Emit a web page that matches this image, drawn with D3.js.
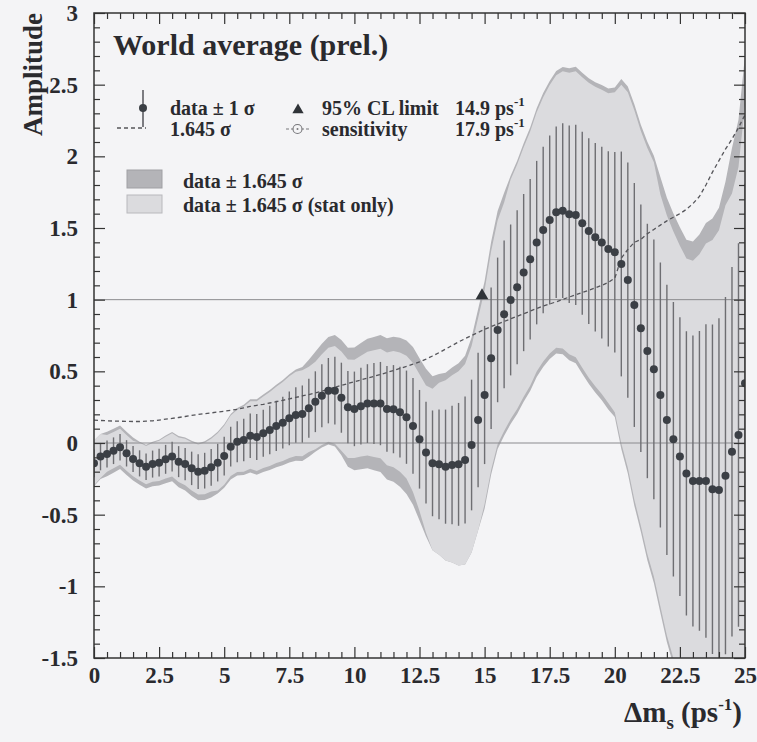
<!DOCTYPE html>
<html><head><meta charset="utf-8">
<script src="https://cdn.jsdelivr.net/npm/d3@7"></script>
<style>
html,body{margin:0;padding:0;background:#f4f4f6;}
svg{display:block;}
text{font-family:"Liberation Serif","DejaVu Serif",serif;font-weight:bold;fill:#2a2a2e;}
</style></head><body>
<svg id="c" width="757" height="742"></svg>
<script>
// Δm_s grid (ps^-1)
const dm = [0,0.25,0.5,0.75,1,1.25,1.5,1.75,2,2.25,2.5,2.75,3,3.25,3.5,3.75,4,4.25,4.5,4.75,
5,5.25,5.5,5.75,6,6.25,6.5,6.75,7,7.25,7.5,7.75,8,8.25,8.5,8.75,9,9.25,9.5,9.75,
10,10.25,10.5,10.75,11,11.25,11.5,11.75,12,12.25,12.5,12.75,13,13.25,13.5,13.75,14,14.25,14.5,14.75,
15,15.25,15.5,15.75,16,16.25,16.5,16.75,17,17.25,17.5,17.75,18,18.25,18.5,18.75,19,19.25,19.5,19.75,
20,20.25,20.5,20.75,21,21.25,21.5,21.75,22,22.25,22.5,22.75,23,23.25,23.5,23.75,24,24.25,24.5,24.75,25];
// measured amplitude
const amp = [-0.142,-0.095,-0.077,-0.054,-0.030,-0.072,-0.112,-0.142,-0.165,-0.147,-0.137,-0.114,-0.095,-0.130,-0.147,-0.177,-0.200,-0.193,-0.170,-0.137,
-0.091,-0.026,0.009,0.021,0.050,0.042,0.068,0.091,0.119,0.142,0.172,0.195,0.202,0.242,0.288,0.330,0.365,0.365,0.316,0.250,
0.238,0.257,0.275,0.275,0.275,0.238,0.236,0.215,0.180,0.119,0.026,-0.067,-0.142,-0.149,-0.165,-0.154,-0.149,-0.119,-0.014,0.161,
0.335,0.591,0.789,0.898,0.998,1.086,1.189,1.282,1.398,1.486,1.556,1.610,1.621,1.596,1.591,1.533,1.479,1.435,1.398,1.354,
1.331,1.249,1.137,0.963,0.800,0.642,0.514,0.335,0.161,0.026,-0.095,-0.212,-0.265,-0.265,-0.265,-0.323,-0.328,-0.228,-0.061,0.056,0.416];
// 1.645 sigma (total)
const sig1645 = [0.160,0.157,0.155,0.153,0.152,0.151,0.150,0.150,0.152,0.155,0.160,0.166,0.172,0.178,0.185,0.192,0.199,0.205,0.210,0.216,
0.222,0.228,0.235,0.245,0.255,0.263,0.270,0.279,0.288,0.298,0.308,0.318,0.328,0.338,0.349,0.362,0.375,0.389,0.402,0.415,
0.428,0.440,0.452,0.465,0.478,0.492,0.506,0.520,0.535,0.550,0.566,0.585,0.607,0.630,0.655,0.680,0.705,0.728,0.750,0.772,
0.793,0.812,0.830,0.848,0.866,0.884,0.902,0.920,0.938,0.955,0.970,0.985,1.002,1.018,1.034,1.050,1.066,1.082,1.100,1.120,
1.150,1.290,1.350,1.400,1.420,1.460,1.490,1.520,1.550,1.575,1.600,1.630,1.670,1.720,1.800,1.890,1.970,2.050,2.120,2.200,2.290];
// 1.645 sigma (stat only), upper and lower half-widths
const statUp = [0.160,0.157,0.132,0.130,0.129,0.128,0.128,0.143,0.144,0.147,0.152,0.158,0.163,0.169,0.176,0.182,0.189,0.195,0.200,0.205,
0.211,0.217,0.223,0.233,0.242,0.250,0.257,0.265,0.274,0.283,0.293,0.302,0.305,0.290,0.279,0.290,0.300,0.311,0.322,0.332,
0.342,0.352,0.362,0.372,0.382,0.394,0.405,0.416,0.428,0.440,0.453,0.468,0.520,0.570,0.603,0.626,0.649,0.670,0.690,0.710,
0.730,0.747,0.764,0.780,0.840,0.857,0.875,0.892,0.910,0.926,0.941,0.955,0.972,0.987,1.003,1.019,1.034,1.050,1.067,1.086,
1.116,1.251,1.310,1.358,1.377,1.416,1.445,1.398,1.426,1.449,1.472,1.500,1.536,1.582,1.656,1.739,1.812,1.886,1.802,1.870,1.947];
const statLo = [0.152,0.149,0.124,0.122,0.122,0.121,0.120,0.120,0.122,0.124,0.128,0.133,0.138,0.142,0.148,0.154,0.159,0.164,0.168,0.194,
0.200,0.205,0.212,0.221,0.230,0.237,0.243,0.251,0.259,0.268,0.277,0.286,0.295,0.304,0.332,0.344,0.356,0.370,0.370,0.355,
0.342,0.352,0.362,0.372,0.382,0.394,0.405,0.416,0.428,0.460,0.500,0.560,0.607,0.630,0.655,0.680,0.705,0.728,0.750,0.772,
0.761,0.780,0.797,0.814,0.831,0.849,0.866,0.883,0.900,0.917,0.931,0.946,0.962,0.977,0.993,1.008,1.023,1.039,1.056,1.075,
1.116,1.251,1.310,1.358,1.377,1.416,1.445,1.474,1.504,1.528,1.552,1.581,1.620,1.668,1.746,1.833,1.911,1.989,2.056,2.134,2.221];
const limit95 = 14.9, sensitivity = 17.9;
const xTickLabels = ["0","2.5","5","7.5","10","12.5","15","17.5","20","22.5","25"];
const yTickLabels = ["-1.5","-1","-0.5","0","0.5","1","1.5","2","2.5","3"];

const data = dm.map((m,i)=>({m, a:amp[i], s:sig1645[i]/1.645, d:sig1645[i], su:statUp[i], sl:statLo[i]}));

const svg = d3.select("#c");
const L=94,R=745,T=13,B=658;
const x = d3.scaleLinear().domain([0,25]).range([L,R]);
const y = d3.scaleLinear().domain([-1.5,3]).range([B,T]);

svg.append("rect").attr("width",757).attr("height",742).attr("fill","#f4f4f6");
svg.append("clipPath").attr("id","clip").append("rect").attr("x",L).attr("y",T).attr("width",R-L).attr("height",B-T);
const g = svg.append("g").attr("clip-path","url(#clip)");

const areaTot = d3.area().x(d=>x(d.m)).y0(d=>y(d.a-d.d)).y1(d=>y(d.a+d.d));
const areaStat = d3.area().x(d=>x(d.m)).y0(d=>y(d.a-d.sl)).y1(d=>y(d.a+d.su));
g.append("path").datum(data).attr("d",areaTot).attr("fill","#b4b4b8");
g.append("path").datum(data).attr("d",areaStat).attr("fill","#dbdbde");

// reference lines
[0,1].forEach(v=>g.append("line").attr("x1",L).attr("x2",R).attr("y1",y(v)).attr("y2",y(v))
  .attr("stroke","#8a8a8e").attr("stroke-width",1));

// error bars
g.selectAll("line.err").data(data).join("line").attr("class","err")
  .attr("x1",d=>x(d.m)).attr("x2",d=>x(d.m)).attr("y1",d=>y(d.a-d.s)).attr("y2",d=>y(d.a+d.s))
  .attr("stroke","#6e6e72").attr("stroke-width",1.4);

// 1.645 sigma dashed
g.append("path").datum(data).attr("d",d3.line().x(d=>x(d.m)).y(d=>y(d.d)))
  .attr("fill","none").attr("stroke","#55555a").attr("stroke-width",1.3).attr("stroke-dasharray","4,3");

// dots
g.selectAll("circle.pt").data(data).join("circle").attr("class","pt")
  .attr("cx",d=>x(d.m)).attr("cy",d=>y(d.a)).attr("r",4).attr("fill","#3b3f45");

// 95% CL limit triangle
const tri = d3.symbol().type(d3.symbolTriangle).size(70);
g.append("path").attr("d",tri()).attr("transform",`translate(${x(limit95)},${y(1)-4})`).attr("fill","#2f3338");

// axes
function styleAxis(sel){ sel.select(".domain").remove(); sel.selectAll("line").attr("stroke","#333").attr("stroke-width",1.2);
  sel.selectAll("text").attr("font-size",23).attr("font-family","Liberation Serif").attr("font-weight","bold").attr("fill","#2a2a2e"); }
const xMajor = xTickLabels.map(Number), yMajor = yTickLabels.map(Number);
const xMinor = d3.range(0,25.001,0.5).filter(v=>Math.abs(v/2.5-Math.round(v/2.5))>1e-6);
const yMinor = d3.range(-1.5,3.0001,0.1).map(v=>+v.toFixed(2)).filter(v=>Math.abs(v/0.5-Math.round(v/0.5))>1e-6);

svg.append("g").attr("transform",`translate(0,${B})`).call(d3.axisBottom(x).tickValues(xMajor).tickSize(-11).tickPadding(9).tickFormat((d,i)=>xTickLabels[i])).call(styleAxis);
svg.append("g").attr("transform",`translate(0,${B})`).call(d3.axisBottom(x).tickValues(xMinor).tickSize(-6).tickFormat("")).call(styleAxis);
svg.append("g").attr("transform",`translate(0,${T})`).call(d3.axisTop(x).tickValues(xMajor).tickSize(-11).tickFormat("")).call(styleAxis);
svg.append("g").attr("transform",`translate(0,${T})`).call(d3.axisTop(x).tickValues(xMinor).tickSize(-6).tickFormat("")).call(styleAxis);
svg.append("g").attr("transform",`translate(${L},0)`).call(d3.axisLeft(y).tickValues(yMajor).tickSize(-11).tickPadding(16).tickFormat((d,i)=>yTickLabels[i])).call(styleAxis);
svg.append("g").attr("transform",`translate(${L},0)`).call(d3.axisLeft(y).tickValues(yMinor).tickSize(-6).tickFormat("")).call(styleAxis);
svg.append("g").attr("transform",`translate(${R},0)`).call(d3.axisRight(y).tickValues(yMajor).tickSize(-11).tickFormat("")).call(styleAxis);
svg.append("g").attr("transform",`translate(${R},0)`).call(d3.axisRight(y).tickValues(yMinor).tickSize(-6).tickFormat("")).call(styleAxis);
svg.append("rect").attr("x",L).attr("y",T).attr("width",R-L).attr("height",B-T).attr("fill","none").attr("stroke","#333").attr("stroke-width",1.5);

// axis titles
svg.append("text").attr("transform","translate(42,13) rotate(-90)").attr("text-anchor","end").attr("font-size",27).text("Amplitude");
const xt = svg.append("text").attr("x",742).attr("y",722).attr("text-anchor","end").attr("font-size",29);
xt.append("tspan").text("Δm");
xt.append("tspan").attr("font-size",19).attr("dy",7).text("s");
xt.append("tspan").attr("dy",-7).text(" (ps");
xt.append("tspan").attr("font-size",17).attr("dy",-12).text("-1");
xt.append("tspan").attr("dy",12).text(")");

// title
svg.append("text").attr("x",113).attr("y",55).attr("font-size",30).text("World average (prel.)");

// legend
const lg = svg.append("g");
lg.append("line").attr("x1",143).attr("x2",143).attr("y1",90).attr("y2",127).attr("stroke","#55555a").attr("stroke-width",1.5);
lg.append("circle").attr("cx",143).attr("cy",108).attr("r",4).attr("fill","#3b3f45");
lg.append("text").attr("x",170).attr("y",115).attr("font-size",20).text("data ± 1 σ");
lg.append("line").attr("x1",117).attr("x2",146).attr("y1",128).attr("y2",128).attr("stroke","#55555a").attr("stroke-width",1.3).attr("stroke-dasharray","4,3");
lg.append("text").attr("x",170).attr("y",136).attr("font-size",20).text("1.645 σ");
lg.append("path").attr("d",d3.symbol().type(d3.symbolTriangle).size(55)()).attr("transform","translate(298,110)").attr("fill","#2f3338");
lg.append("text").attr("x",322).attr("y",115).attr("font-size",20).text("95% CL limit");
const t1 = lg.append("text").attr("x",455).attr("y",115).attr("font-size",20);
t1.append("tspan").text(limit95.toFixed(1)+" ps"); t1.append("tspan").attr("font-size",13).attr("dy",-9).text("-1");
lg.append("line").attr("x1",286).attr("x2",309).attr("y1",129).attr("y2",129).attr("stroke","#77777b").attr("stroke-width",1.2).attr("stroke-dasharray","3,2");
lg.append("circle").attr("cx",297.5).attr("cy",129).attr("r",4.5).attr("fill","#f4f4f6").attr("stroke","#77777b").attr("stroke-width",1.1);
lg.append("circle").attr("cx",297.5).attr("cy",129).attr("r",1).attr("fill","#77777b");
lg.append("text").attr("x",322).attr("y",136).attr("font-size",20).text("sensitivity");
const t2 = lg.append("text").attr("x",455).attr("y",136).attr("font-size",20);
t2.append("tspan").text(sensitivity.toFixed(1)+" ps"); t2.append("tspan").attr("font-size",13).attr("dy",-9).text("-1");
lg.append("rect").attr("x",127).attr("y",170).attr("width",35).attr("height",18).attr("fill","#b4b4b8").attr("stroke","#a0a0a4");
lg.append("text").attr("x",183).attr("y",188).attr("font-size",20).text("data ± 1.645 σ");
lg.append("rect").attr("x",127).attr("y",195).attr("width",35).attr("height",18).attr("fill","#dbdbde").attr("stroke","#b8b8bc");
lg.append("text").attr("x",183).attr("y",212).attr("font-size",20).text("data ± 1.645 σ (stat only)");
</script></body></html>
